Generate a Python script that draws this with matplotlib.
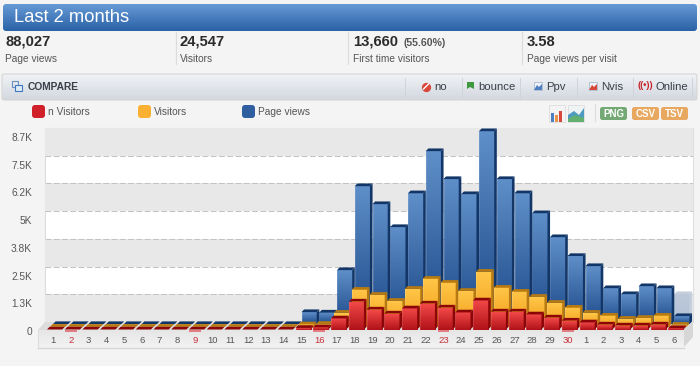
import numpy as np
import matplotlib
matplotlib.use("Agg")
import matplotlib.pyplot as plt
from matplotlib.patches import Polygon, FancyBboxPatch, Rectangle
from matplotlib.transforms import ScaledTranslation

plt.rcParams['font.family'] = ['Liberation Sans', 'DejaVu Sans']

# ---- data ----
day_labels = [str(d) for d in range(1, 31)] + [str(d) for d in range(1, 7)]
highlight_days = [2, 9, 16, 23, 30]
page_views = [0]*14 + [540, 520, 2435, 6220, 5410, 4375, 5900, 7800, 6540, 5860, 8700,
              6540, 5900, 5000, 3920, 3070, 2615, 1620, 1350, 1710, 1620, 360]
visitors = [0]*14 + [110, 130, 630, 1670, 1440, 1170, 1710, 2165, 1985, 1620, 2480,
            1760, 1580, 1350, 1080, 860, 630, 500, 360, 400, 500, 90]
new_visitors = [0]*14 + [70, 100, 500, 1260, 900, 720, 950, 1170, 990, 770, 1310,
                810, 810, 680, 540, 400, 320, 225, 180, 180, 225, 60]
ghost_value = 1350
y_ticks = [0, 1250, 2500, 3750, 5000, 6250, 7500, 8750]
y_labels = ['0', '1.3K', '2.5K', '3.8K', '5K', '6.2K', '7.5K', '8.7K']
stats = [(5, '88,027', 'Page views'), (180, '24,547', 'Visitors'),
         (353, '13,660', 'First time visitors'), (527, '3.58', 'Page views per visit')]
legend_items = [(32, '#d0202a', 'n Visitors'), (138, '#fbb034', 'Visitors'), (242, '#2f5f9e', 'Page views')]
buttons = [(434, 'no'), (478, 'bounce'), (546, 'Ppv'), (601, 'Nvis'), (655, 'Online')]

W, H = 700, 366
fig = plt.figure(figsize=(W/100, H/100), dpi=100, facecolor='#f4f4f4')

# ---- page furniture, in pixel coordinates ----
ui = fig.add_axes([0, 0, 1, 1], zorder=0)
ui.set_xlim(0, W); ui.set_ylim(H, 0); ui.axis('off')

def grad(ax, x0, x1, y0, y1, c_top, c_bot, zorder=2, clip=None):
    a = np.array(matplotlib.colors.to_rgb(c_top))
    b = np.array(matplotlib.colors.to_rgb(c_bot))
    t = np.linspace(0, 1, 64)[:, None]
    img = (a*(1-t) + b*t)[:, None, :]
    inverted = ax.get_ylim()[0] > ax.get_ylim()[1]
    ext = (x0, x1, y1, y0) if inverted else (x0, x1, y0, y1)
    im = ax.imshow(img, extent=ext, aspect='auto', origin='upper', zorder=zorder, interpolation='bilinear')
    if clip is not None:
        im.set_clip_path(clip)
    return im

def rounded(x0, y0, x1, y1, c_top, c_bot, r=3, edge='none', zorder=2):
    p = FancyBboxPatch((x0, y0), x1-x0, y1-y0, boxstyle=f'round,pad=0,rounding_size={r}',
                       fc='none', ec=edge, lw=0.8, zorder=zorder+0.1)
    ui.add_patch(p)
    grad(ui, x0, x1, y0, y1, c_top, c_bot, zorder=zorder, clip=p)

rounded(3, 4, 697, 31, '#669ad6', '#2a62a6', r=3)
ui.text(14, 18, 'Last 2 months', color='white', fontsize=13.2, va='center', zorder=5)

for x, big, small in stats:
    ui.text(x, 42, big, fontsize=10.6, fontweight='bold', color='#2b2b2b', va='center', zorder=5)
    ui.text(x, 59.5, small, fontsize=7.3, color='#555555', va='center', zorder=5)
ui.text(403, 43, '(55.60%)', fontsize=7.6, fontweight='bold', color='#555555', va='center', zorder=5)
for x in (176, 348, 522):
    ui.plot([x, x], [32, 64], color='#dddddd', lw=0.9, zorder=3)

rounded(2, 74, 697, 100, '#f0f2f5', '#d3d8e0', r=2, edge='#d6d6d6')
ui.add_patch(Rectangle((12, 81), 6, 6, fc='none', ec='#6a8fc0', lw=0.8, zorder=5))
ui.add_patch(Rectangle((15, 85), 7, 6, fc='#dfeaf8', ec='#3f78c0', lw=0.8, zorder=5))
ui.text(28, 87, 'COMPARE', fontsize=7.4, fontweight='bold', color='#3a3f48', va='center', zorder=5)
for x in (405, 462, 520, 577, 633, 692):
    ui.plot([x, x], [78, 97], color='#d0d4da', lw=0.7, zorder=3)
for x, t in buttons:
    ui.text(x, 87, t, fontsize=8.2, color='#3a4048', va='center', zorder=5)
ui.scatter([426], [86.5], s=32, color='#d8483a', zorder=5)
ui.plot([423.5, 428.5], [89, 84], color='white', lw=1, zorder=6)
ui.add_patch(Polygon([[467, 82], [474, 82], [474, 89], [470, 87], [467, 89]], fc='#3f9a3f', zorder=5))
for x, c in ((534, '#4f7fc0'), (589, '#d8483a')):
    ui.add_patch(Rectangle((x, 82), 8, 8, fc='#eef2f8', ec='#9fb2cc', lw=0.5, zorder=5))
    ui.add_patch(Polygon([[x, 90], [x+3, 85], [x+5, 87], [x+8, 84], [x+8, 90]], fc=c, zorder=6))
ui.text(645, 85.5, '((•))', fontsize=6.5, fontweight='bold', color='#c8252a', va='center', ha='center', zorder=5)

for x, c, t in legend_items:
    ui.add_patch(FancyBboxPatch((x, 105), 13, 13, boxstyle='round,pad=0,rounding_size=3', fc=c, ec='none', zorder=5))
    ui.text(x+15.5, 112, t, fontsize=7.3, color='#555555', va='center', zorder=5)

ui.add_patch(Rectangle((549, 105), 16, 17, fc='#f4f4f4', ec='#dddddd', lw=0.6, zorder=4))
ui.add_patch(Rectangle((551, 113), 3, 9, fc='#4f7fc0', zorder=5))
ui.add_patch(Rectangle((555, 115), 3, 7, fc='#e8944a', zorder=5))
ui.add_patch(Rectangle((559, 111), 3, 11, fc='#d8483a', zorder=5))
ui.add_patch(Rectangle((568, 105), 16, 17, fc='#eef4f4', ec='#dddddd', lw=0.6, zorder=4))
ui.add_patch(Polygon([[568, 122], [568, 115], [574, 111], [579, 115], [584, 108], [584, 122]], fc='#4f9ac0', zorder=5))
ui.add_patch(Polygon([[568, 122], [568, 119], [575, 115], [584, 118], [584, 122]], fc='#62b070', zorder=6))
ui.plot([595, 595], [104, 121], color='#dddddd', lw=0.9, zorder=3)
for x0, x1, c, t in ((600, 627, '#74a874', 'PNG'), (632, 659, '#e8a860', 'CSV'), (661, 688, '#e8a860', 'TSV')):
    ui.add_patch(FancyBboxPatch((x0, 107), x1-x0, 13, boxstyle='round,pad=0,rounding_size=2.5', fc=c, ec='none', zorder=5))
    ui.text((x0+x1)/2, 113.7, t, fontsize=7, fontweight='bold', color='white', ha='center', va='center', zorder=6)

# chart frame: floor, label strip, right side
grad(ui, 38, 684, 330, 347, '#e6e6e6', '#f2f2f2', zorder=1)
ui.plot([38, 684], [347.5, 347.5], color='#d6d6d6', lw=1, zorder=2)
ui.plot([38, 38], [330, 347], color='#dddddd', lw=0.8, zorder=2)
ui.add_patch(Polygon([[38, 330], [45, 322], [693, 322], [684, 330]], fc='#dcdcdc', ec='none', zorder=1))
ui.add_patch(Polygon([[684, 330], [693, 322], [693, 337], [684, 347]], fc='#d6d6d6', ec='none', zorder=1))
ui.add_patch(Rectangle((45, 128), 648, 194, fc='white', ec='none', zorder=1))
ui.plot([45, 693, 693], [127.5, 127.5, 322], color='#dedede', lw=0.8, zorder=2)
ui.plot([45, 45], [128, 322], color='#dcdcdc', lw=0.8, zorder=2)
ui.set_xlim(0, W); ui.set_ylim(H, 0)

# ---- chart, in data coordinates ----
PX_Y = 45.1      # value units per pixel
PX_X = 17.75     # pixels per day
BASE = 329.5
TOP, BOT, LEFT, RIGHT = 128, 333, 38, 693
ax = fig.add_axes([LEFT/W, 1-BOT/H, (RIGHT-LEFT)/W, (BOT-TOP)/H], zorder=1)
ax.patch.set_alpha(0)
x_lim = ((LEFT-53)/PX_X + 1, (RIGHT-53)/PX_X + 1)
y_lim = ((BASE-BOT)*PX_Y, (BASE-TOP)*PX_Y)
days = np.arange(1, len(day_labels)+1)
wall = 7.5*PX_Y

for i, (lo, hi) in enumerate(zip(y_ticks[:-1], y_ticks[1:])):
    if i % 2 == 0:
        ax.axhspan(lo+wall, hi+wall, xmin=7/(RIGHT-LEFT), xmax=1, color='#e8e8e8', lw=0, zorder=1)
ax.hlines([v+wall for v in y_ticks[1:-1]], x_lim[0]+7/PX_X, x_lim[1], colors='#c2c2c2',
          linestyles=(0, (6, 2.5)), lw=0.7, zorder=1.5)

def series(vals, off_x, off_y, c_top, c_bot, c_dark, z, xs=days):
    d_x, d_y = 2.6/PX_X, 2.7*PX_Y
    w = 15.2/PX_X
    x0s = np.asarray(xs) + (off_x-6)/PX_X
    y0 = off_y*PX_Y
    bars = ax.bar(x0s, vals, width=w, bottom=y0, align='edge', color=c_bot, lw=0, zorder=z)
    for b, v in zip(bars, vals):
        x0, x1 = b.get_x(), b.get_x()+b.get_width()
        y1 = y0 + v
        if v > 0:
            grad(ax, x0, x1, y0, y1, c_top, c_bot, zorder=z+0.1)
            ax.add_patch(Rectangle((x0, y0), 1.0/PX_X, v, fc='white', alpha=0.12, lw=0, zorder=z+0.2))
            ax.add_patch(Polygon([[x1, y0], [x1+d_x, y0+d_y], [x1+d_x, y1+d_y], [x1, y1]],
                                 fc=c_dark, ec='none', zorder=z+0.2))
        ax.add_patch(Polygon([[x0, y1], [x0+d_x, y1+d_y], [x1+d_x, y1+d_y], [x1, y1]],
                             fc=c_dark, ec='none', zorder=z+0.3))

series([ghost_value], 6, 5.4, '#bcc8da', '#b4c2d6', '#c4cedc', 2, xs=[days[-1]])
series(page_views, 6, 5.4, '#5f8fc8', '#1c4888', '#123668', 3)
series(visitors, 3, 2.7, '#ffc648', '#f29c18', '#b87a10', 4)
series(new_visitors, 0, 0, '#f24848', '#b01218', '#8c0508', 5)

hl_pos = [i+1 for i, d in enumerate(day_labels) if int(d) in highlight_days and i < 30]
ax.hlines([-1.8*PX_Y]*len(hl_pos), [p-0.33 for p in hl_pos], [p+0.33 for p in hl_pos],
          colors='#e06a70', lw=1.2, zorder=6)

ax.set_xlim(*x_lim)
ax.set_ylim(*y_lim)
ax.set_xticks(days, day_labels)
ax.set_yticks(y_ticks, y_labels)
ax.tick_params(axis='x', length=0, pad=2.2, labelsize=6.8, labelcolor='#555555')
ax.tick_params(axis='y', length=0, pad=4.3, labelsize=7.3, labelcolor='#555555')
for lab, p in zip(ax.get_xticklabels(), days):
    if p in hl_pos:
        lab.set_color('#c8303c')
shift = ScaledTranslation(0, -1.5/100, fig.dpi_scale_trans)
for lab in ax.get_yticklabels():
    lab.set_transform(lab.get_transform() + shift)
for s in ax.spines.values():
    s.set_visible(False)

fig.savefig('out.png', dpi=100, facecolor=fig.get_facecolor())
